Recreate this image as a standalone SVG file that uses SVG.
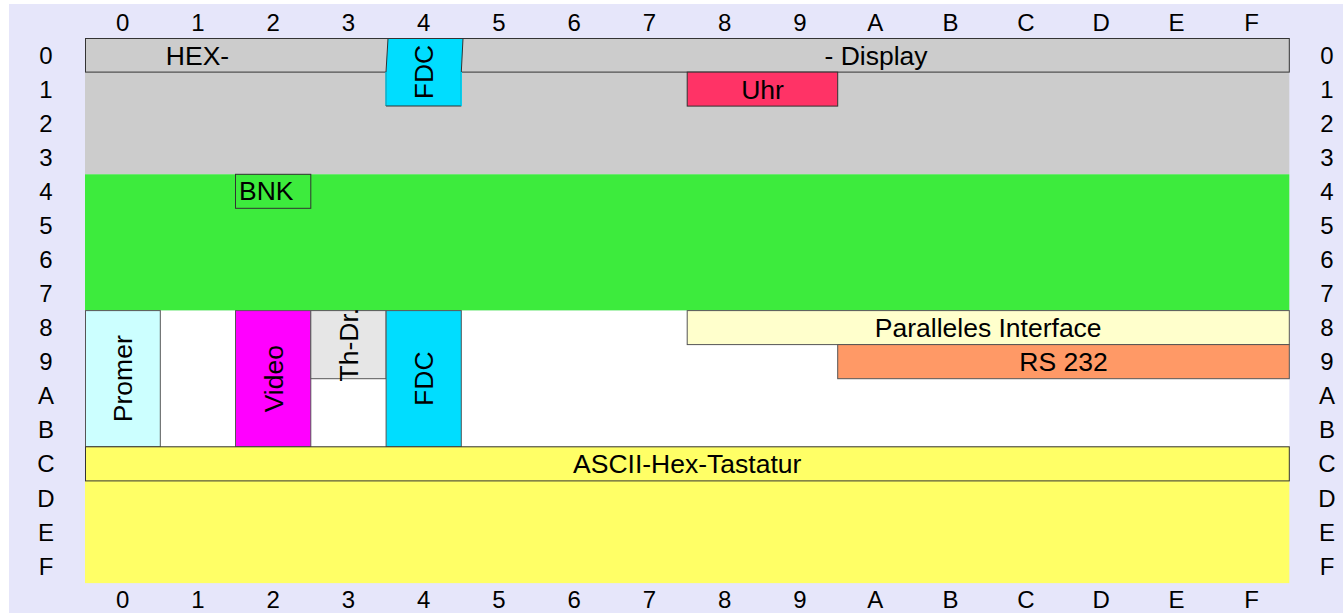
<svg xmlns="http://www.w3.org/2000/svg" width="1343" height="613" viewBox="0 0 1343 613">
<style>
text{font-family:"Liberation Sans",Arial,sans-serif;fill:#000}
.hd{font-size:24px;text-anchor:middle}
.lb{font-size:26.5px;text-anchor:middle}
.bx{stroke:#333;stroke-width:1}
.bg{stroke:#555;stroke-width:1}
</style>
<rect x="0" y="0" width="1343" height="613" fill="#ffffff"/>
<rect x="9" y="4" width="1334" height="609" fill="#e6e6fa"/>
<g id="areas">
<rect x="85" y="38" width="1204.3" height="136.3" fill="#cccccc"/>
<rect x="85" y="174.3" width="1204.3" height="136.3" fill="#3deb3d"/>
<rect x="85" y="310.6" width="1204.3" height="136.3" fill="#ffffff"/>
<rect x="85" y="446.8" width="1204.3" height="136.3" fill="#ffff66"/>
</g>
<g id="hex-display">
<rect class="bx" x="85.5" y="38.5" width="1203.8" height="33.6" fill="#cccccc"/>
<text class="lb" x="197.5" y="64.5">HEX-</text>
<text class="lb" x="876" y="64.5">- Display</text>
</g>
<g id="fdc-top">
<polygon class="bx" points="388,38.5 463,38.5 461.3,72 461.3,106 386,106 386,72" fill="#00ddff"/>
<line x1="461.3" y1="72" x2="461.3" y2="106" stroke="#00ddff" stroke-width="1.2"/>
<line x1="386" y1="72" x2="386" y2="105.5" stroke="#00ddff" stroke-width="1.2"/>
<text class="lb" transform="translate(423.7,72) rotate(-90)" x="0" y="9.5">FDC</text>
</g>
<g id="uhr">
<rect class="bx" x="687.2" y="72.1" width="150.5" height="34" fill="#ff3366"/>
<text class="lb" x="762.5" y="98.6">Uhr</text>
</g>
<g id="bnk">
<rect class="bx" x="235.5" y="174.3" width="75.3" height="34" fill="#3deb3d"/>
<text class="lb" x="239" y="200.3" style="text-anchor:start">BNK</text>
</g>
<g id="promer">
<rect class="bg" x="85.5" y="310.6" width="74.8" height="136.2" fill="#ccffff"/>
<text class="lb" transform="translate(122.6,378.7) rotate(-90)" x="0" y="9.5">Promer</text>
</g>
<g id="video">
<rect class="bg" x="235.5" y="310.6" width="75.3" height="136.2" fill="#ff00ff"/>
<text class="lb" transform="translate(273.2,378.7) rotate(-90)" x="0" y="9.5">Video</text>
</g>
<g id="th-dr">
<rect class="bg" x="310.8" y="310.6" width="75.3" height="68.1" fill="#e6e6e6"/>
<text class="lb" transform="translate(348.4,344.6) rotate(-90)" x="0" y="9.5">Th-Dr.</text>
</g>
<g id="fdc-bottom">
<rect class="bg" x="386.1" y="310.6" width="75.2" height="136.2" fill="#00ddff"/>
<text class="lb" transform="translate(423.7,378.7) rotate(-90)" x="0" y="9.5">FDC</text>
</g>
<g id="paralleles-interface">
<rect class="bg" x="687.2" y="310.6" width="602.1" height="34" fill="#ffffcc"/>
<text class="lb" x="988.2" y="337.1">Paralleles Interface</text>
</g>
<g id="rs232">
<rect class="bg" x="837.7" y="344.6" width="451.6" height="34.1" fill="#ff9966"/>
<text class="lb" x="1063.5" y="371.2">RS 232</text>
</g>
<g id="ascii-hex-tastatur">
<rect class="bx" x="85.5" y="446.8" width="1203.8" height="34.1" fill="#ffff66"/>
<text class="lb" x="687.2" y="473.3">ASCII-Hex-Tastatur</text>
</g>
<g id="col-top" class="hd">
<text class="hd" x="122.6" y="30.7">0</text><text class="hd" x="197.9" y="30.7">1</text><text class="hd" x="273.2" y="30.7">2</text><text class="hd" x="348.4" y="30.7">3</text>
<text class="hd" x="423.7" y="30.7">4</text><text class="hd" x="499" y="30.7">5</text><text class="hd" x="574.2" y="30.7">6</text><text class="hd" x="649.5" y="30.7">7</text>
<text class="hd" x="724.8" y="30.7">8</text><text class="hd" x="800" y="30.7">9</text><text class="hd" x="875.3" y="30.7">A</text><text class="hd" x="950.6" y="30.7">B</text>
<text class="hd" x="1025.8" y="30.7">C</text><text class="hd" x="1101.1" y="30.7">D</text><text class="hd" x="1176.4" y="30.7">E</text><text class="hd" x="1251.6" y="30.7">F</text>
</g>
<g id="col-bottom">
<text class="hd" x="122.6" y="607.5">0</text><text class="hd" x="197.9" y="607.5">1</text><text class="hd" x="273.2" y="607.5">2</text><text class="hd" x="348.4" y="607.5">3</text>
<text class="hd" x="423.7" y="607.5">4</text><text class="hd" x="499" y="607.5">5</text><text class="hd" x="574.2" y="607.5">6</text><text class="hd" x="649.5" y="607.5">7</text>
<text class="hd" x="724.8" y="607.5">8</text><text class="hd" x="800" y="607.5">9</text><text class="hd" x="875.3" y="607.5">A</text><text class="hd" x="950.6" y="607.5">B</text>
<text class="hd" x="1025.8" y="607.5">C</text><text class="hd" x="1101.1" y="607.5">D</text><text class="hd" x="1176.4" y="607.5">E</text><text class="hd" x="1251.6" y="607.5">F</text>
</g>
<g id="row-left">
<text class="hd" x="46" y="63.6">0</text><text class="hd" x="46" y="97.7">1</text><text class="hd" x="46" y="131.7">2</text><text class="hd" x="46" y="165.8">3</text>
<text class="hd" x="46" y="199.9">4</text><text class="hd" x="46" y="233.9">5</text><text class="hd" x="46" y="268">6</text><text class="hd" x="46" y="302.1">7</text>
<text class="hd" x="46" y="336.1">8</text><text class="hd" x="46" y="370.2">9</text><text class="hd" x="46" y="404.3">A</text><text class="hd" x="46" y="438.3">B</text>
<text class="hd" x="46" y="472.4">C</text><text class="hd" x="46" y="506.5">D</text><text class="hd" x="46" y="540.5">E</text><text class="hd" x="46" y="574.6">F</text>
</g>
<g id="row-right">
<text class="hd" x="1327" y="63.6">0</text><text class="hd" x="1327" y="97.7">1</text><text class="hd" x="1327" y="131.7">2</text><text class="hd" x="1327" y="165.8">3</text>
<text class="hd" x="1327" y="199.9">4</text><text class="hd" x="1327" y="233.9">5</text><text class="hd" x="1327" y="268">6</text><text class="hd" x="1327" y="302.1">7</text>
<text class="hd" x="1327" y="336.1">8</text><text class="hd" x="1327" y="370.2">9</text><text class="hd" x="1327" y="404.3">A</text><text class="hd" x="1327" y="438.3">B</text>
<text class="hd" x="1327" y="472.4">C</text><text class="hd" x="1327" y="506.5">D</text><text class="hd" x="1327" y="540.5">E</text><text class="hd" x="1327" y="574.6">F</text>
</g>
</svg>
